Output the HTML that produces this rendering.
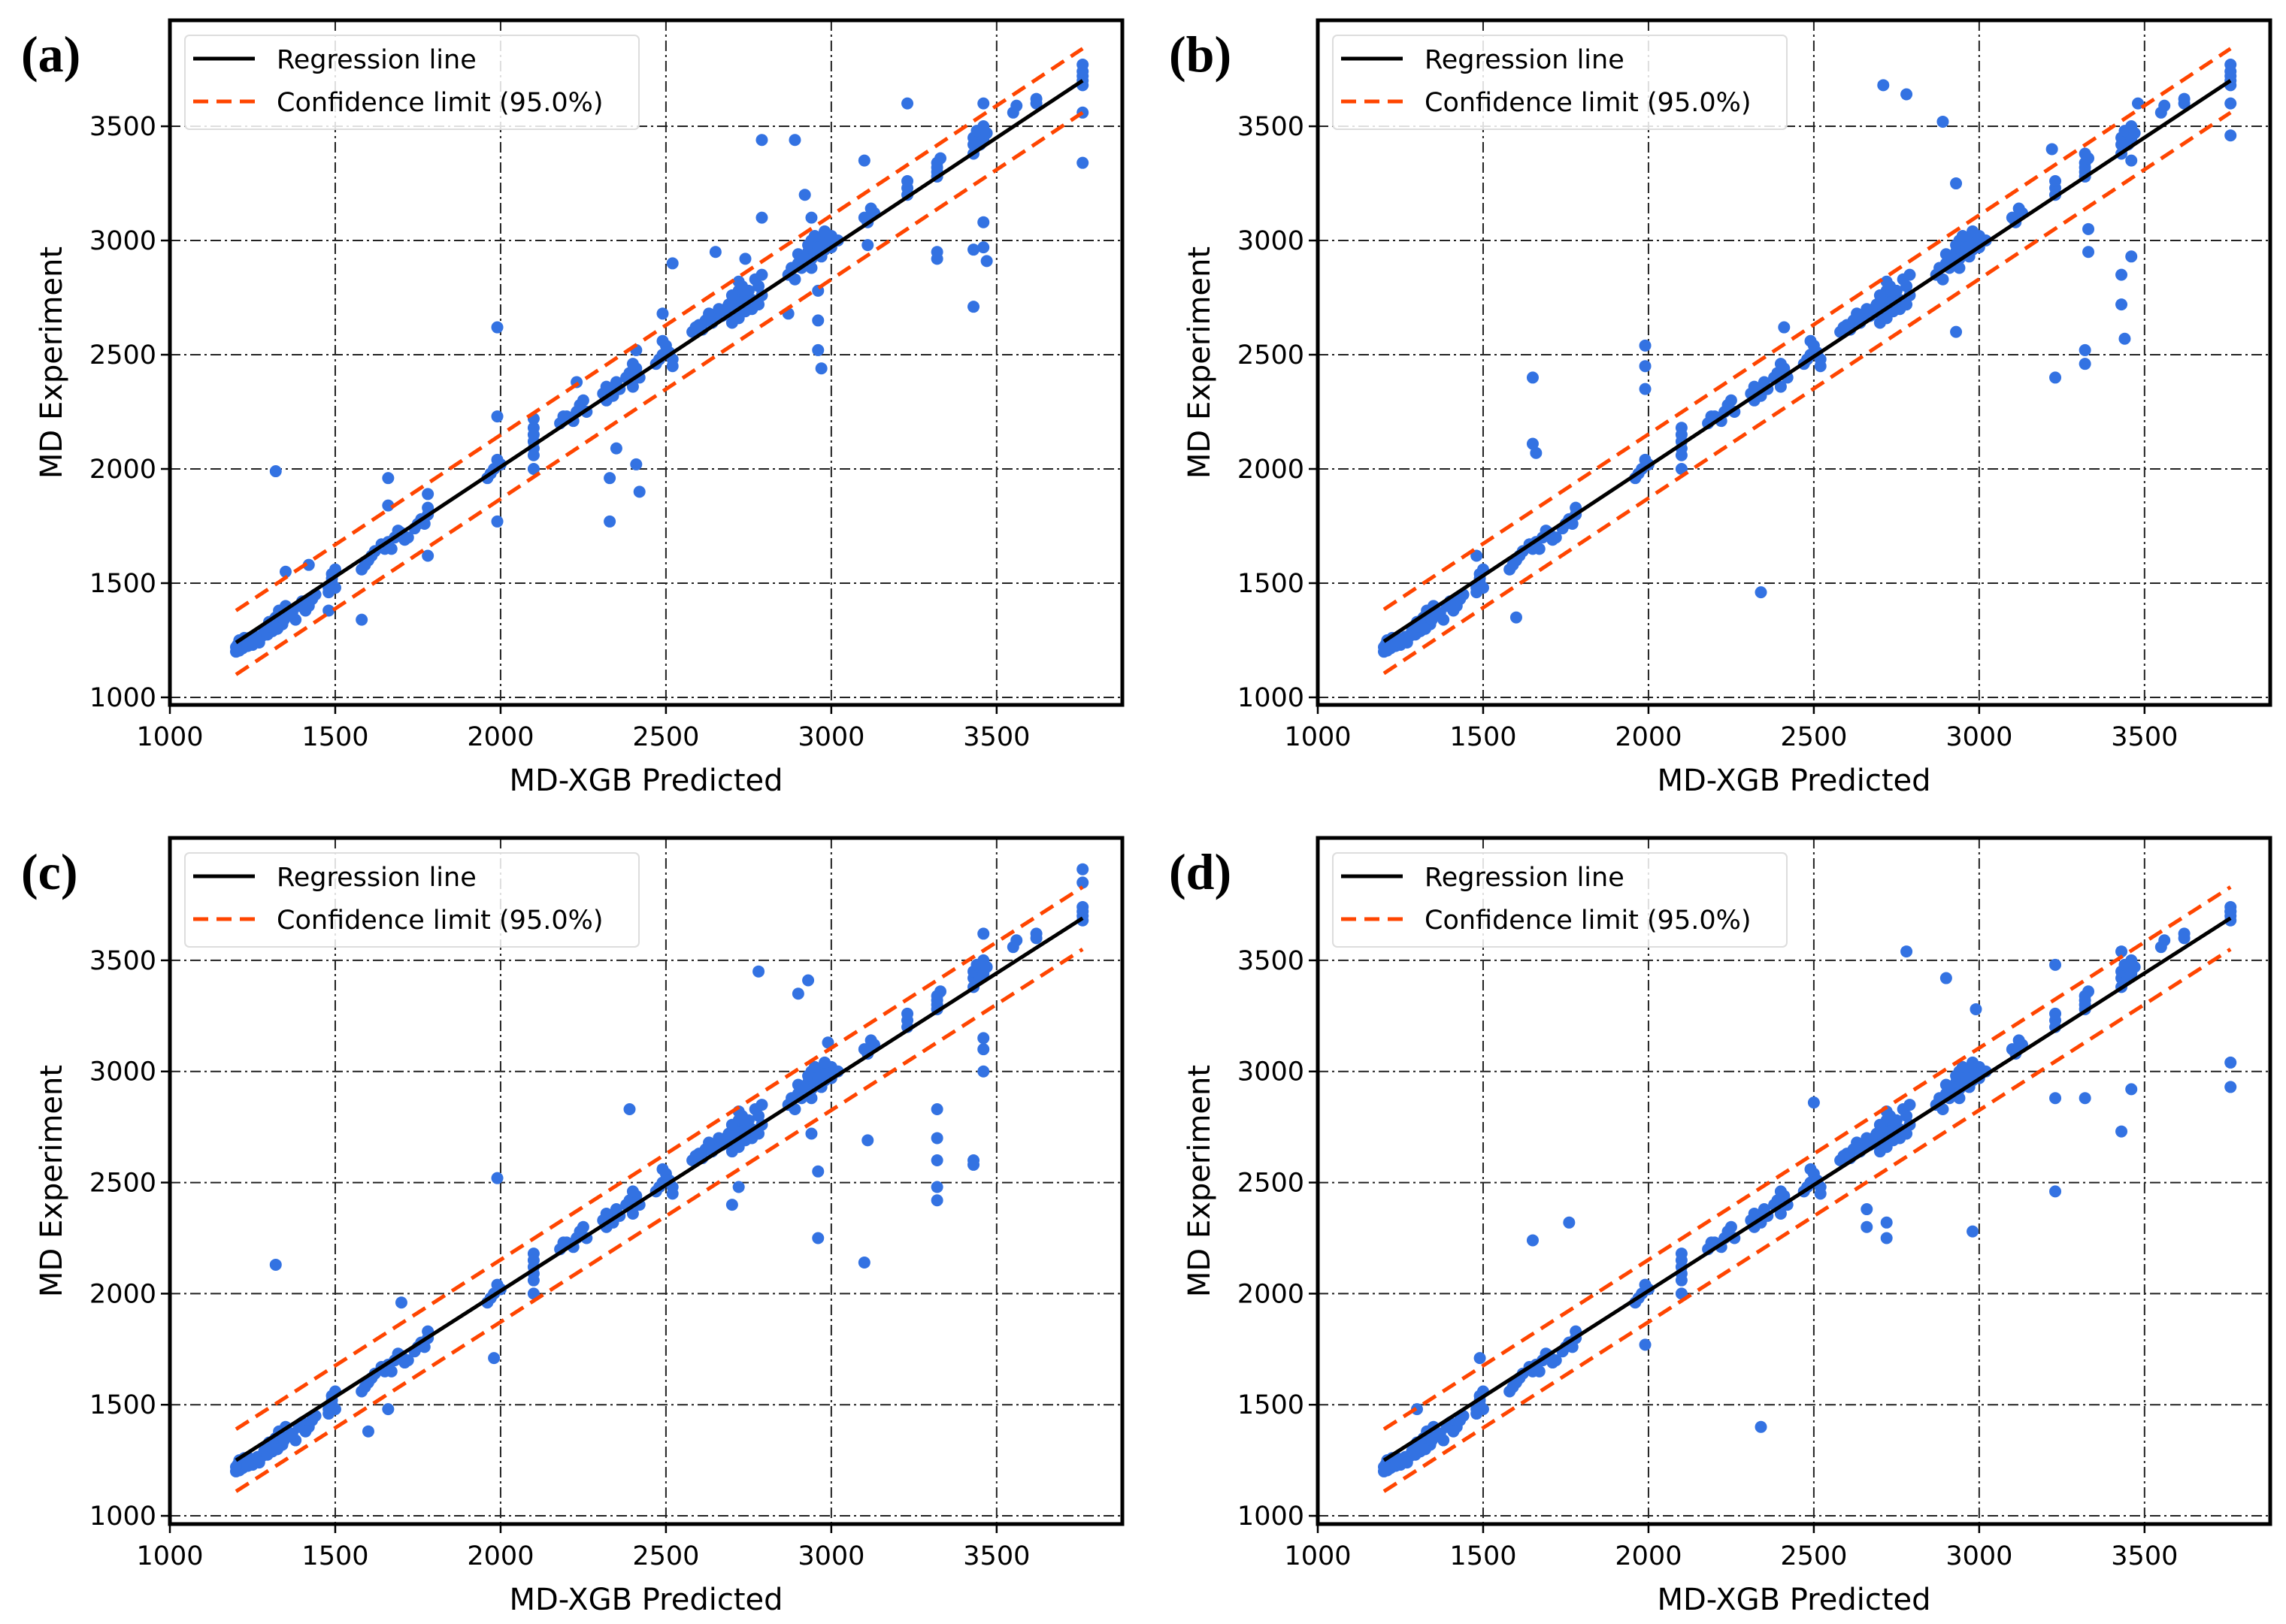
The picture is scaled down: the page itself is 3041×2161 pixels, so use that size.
<!DOCTYPE html>
<html><head><meta charset="utf-8"><style>
body{margin:0;background:#fff}
svg{display:block}
text{font-family:"DejaVu Sans","Liberation Sans",sans-serif}
</style></head><body>
<svg id="fig" width="3041" height="2161" viewBox="0 0 3041 2161" xmlns="http://www.w3.org/2000/svg"></svg>
<script>
const xTicks=[1000,1500,2000,2500,3000,3500];
const yTicks=[1000,1500,2000,2500,3000,3500];
const panelLabels=["(a)","(b)","(c)","(d)"];
const regStart=[1240,1245,1250,1250];
const regEnd=[3700,3700,3690,3690];
const confHalf=[140,140,140,140];
const basePoints=[[1200,1200],[1205,1230],[1210,1250],[1220,1215],[1230,1240],[1240,1260],[1250,1230],[1260,1250],[1280,1270],[1290,1300],[1300,1330],[1310,1290],[1320,1350],[1330,1380],[1340,1320],[1350,1400],[1360,1360],[1380,1340],[1400,1420],[1420,1400],[1440,1450],[1480,1460],[1490,1500],[1490,1540],[1500,1480],[1580,1560],[1600,1600],[1620,1640],[1650,1650],[1660,1680],[1680,1700],[1700,1720],[1720,1700],[1750,1760],[1760,1780],[1780,1800],[1960,1960],[1980,2000],[2000,2020],[2100,2060],[2100,2120],[2100,2180],[2180,2200],[2200,2230],[2230,2250],[2250,2300],[2320,2300],[2330,2340],[2350,2380],[2380,2400],[2400,2360],[2410,2440],[2470,2460],[2490,2500],[2500,2540],[2520,2480],[2580,2600],[2600,2630],[2620,2650],[2650,2660],[2680,2700],[2700,2680],[2710,2740],[2720,2780],[2740,2760],[2760,2700],[2780,2800],[2790,2760],[2870,2850],[2900,2900],[2910,2880],[2930,2950],[2940,2920],[2950,2980],[2970,3000],[2980,2960],[3000,3020],[3020,3000],[3100,3100],[3130,3120],[3230,3230],[3320,3300],[3320,3340],[3430,3420],[3450,3460],[3460,3500],[3550,3560],[3620,3620],[3760,3700],[3760,3740]];
const densePoints=[[1200,1220],[1210,1205],[1215,1240],[1225,1260],[1235,1225],[1245,1245],[1265,1265],[1270,1240],[1285,1290],[1295,1275],[1305,1310],[1315,1340],[1325,1300],[1335,1360],[1345,1340],[1355,1380],[1370,1370],[1390,1400],[1410,1380],[1430,1430],[1480,1480],[1490,1520],[1500,1560],[1590,1580],[1610,1620],[1640,1670],[1670,1650],[1690,1730],[1710,1690],[1740,1740],[1770,1760],[1780,1830],[1970,1980],[1990,2040],[2100,2000],[2100,2090],[2100,2150],[2190,2230],[2220,2210],[2240,2280],[2260,2250],[2310,2330],[2320,2360],[2340,2320],[2360,2350],[2390,2420],[2400,2460],[2420,2400],[2480,2480],[2490,2560],[2510,2510],[2520,2450],[2590,2620],[2610,2610],[2630,2680],[2640,2640],[2660,2700],[2670,2670],[2690,2720],[2700,2640],[2700,2760],[2710,2700],[2720,2660],[2720,2820],[2730,2730],[2730,2800],[2740,2690],[2750,2780],[2760,2740],[2770,2830],[2780,2720],[2790,2850],[2880,2880],[2890,2830],[2900,2940],[2920,2920],[2930,2980],[2940,2880],[2940,3000],[2950,2940],[2950,3020],[2960,2970],[2970,2930],[2980,3040],[2990,2990],[3000,2970],[3110,3080],[3120,3140],[3230,3200],[3230,3260],[3320,3280],[3320,3320],[3330,3360],[3430,3380],[3430,3450],[3440,3480],[3450,3420],[3460,3440],[3470,3470],[3560,3590],[3620,3600],[3760,3680],[3760,3720]];
const outA=[[1320,1990],[1350,1550],[1420,1580],[1480,1380],[1580,1340],[1660,1960],[1660,1840],[1780,1890],[1780,1620],[1990,2230],[1990,2620],[1990,1770],[2100,2220],[2230,2380],[2330,1960],[2330,1770],[2350,2090],[2410,2520],[2410,2020],[2420,1900],[2490,2680],[2520,2900],[2650,2950],[2740,2920],[2790,3100],[2790,3440],[2870,2680],[2890,3440],[2920,3200],[2940,3100],[2960,2650],[2960,2520],[2970,2440],[2960,2780],[3100,3350],[3110,2980],[3230,3600],[3320,2950],[3320,2920],[3430,2710],[3430,2960],[3460,3080],[3460,2970],[3470,2910],[3460,3600],[3760,3560],[3760,3340],[3760,3770]];
const outB=[[1650,2400],[1650,2110],[1660,2070],[1990,2540],[1990,2450],[1990,2350],[1600,1350],[2340,1460],[2410,2620],[2710,3680],[2780,3640],[2890,3520],[2930,3250],[2930,2600],[3230,2400],[3320,2520],[3320,2460],[3330,3050],[3330,2950],[3430,2850],[3430,2720],[3440,2570],[3460,2930],[3460,3350],[3760,3460],[3760,3600],[3760,3770],[3220,3400],[3320,3380],[3480,3600],[1480,1620]];
const outC=[[1320,2130],[1990,2520],[1980,1710],[2390,2830],[2780,3450],[2900,3350],[2930,3410],[2960,2250],[2960,2550],[3100,2140],[3110,2690],[3320,2420],[3320,2480],[3320,2600],[3320,2700],[3320,2830],[3430,2600],[3430,2580],[3460,3000],[3460,3100],[3460,3150],[3460,3620],[3760,3910],[3760,3850],[1700,1960],[1660,1480],[1600,1380],[2700,2400],[2720,2480],[2940,2720],[2990,3130]];
const outD=[[1650,2240],[1760,2320],[1990,1770],[2340,1400],[2500,2860],[2780,3540],[2900,3420],[2980,2280],[3230,2460],[3230,2880],[3230,3480],[3320,2880],[3430,2730],[3460,2920],[3760,2930],[3760,3040],[2660,2380],[2660,2300],[2720,2250],[2720,2320],[1490,1710],[1300,1480],[2990,3280],[3430,3540],[3760,3720]];
const outs=[outA,outB,outC,outD];
const panels=[{l:226,t:27,w:1267,h:911,y0:967,y1:3964},{l:1753,t:27,w:1267,h:911,y0:967,y1:3964},{l:226,t:1115,w:1267,h:913,y0:963,y1:4051},{l:1753,t:1115,w:1267,h:913,y0:963,y1:4051}];
const X0=1000,X1=3880;
const svg=document.getElementById('fig');
const NS='http://www.w3.org/2000/svg';
function mk(tag,attrs,parent){const e=document.createElementNS(NS,tag);for(const k in attrs)e.setAttribute(k,attrs[k]);(parent||svg).appendChild(e);return e;}
panels.forEach((p,i)=>{
  const g=mk('g',{});
  
  
  const sx=v=>p.l+(v-X0)/(X1-X0)*p.w;
  const sy=v=>p.t+p.h-(v-p.y0)/(p.y1-p.y0)*p.h;
  xTicks.forEach(v=>{const x=sx(v);
    const gl=mk('line',{x1:x,x2:x,y1:p.t,y2:p.t+p.h,stroke:'#222','stroke-width':2,'stroke-dasharray':'14,5,3,5'},g);
    
    mk('line',{x1:x,x2:x,y1:p.t+p.h,y2:p.t+p.h+12,stroke:'#000','stroke-width':2.5},g);
    const t=mk('text',{x:x,y:p.t+p.h+54,'font-size':35,'text-anchor':'middle'},g);t.textContent=v;
    });
  yTicks.forEach(v=>{const y=sy(v);
    const gl=mk('line',{x1:p.l,x2:p.l+p.w,y1:y,y2:y,stroke:'#222','stroke-width':2,'stroke-dasharray':'14,5,3,5'},g);
    
    mk('line',{x1:p.l-12,x2:p.l,y1:y,y2:y,stroke:'#000','stroke-width':2.5},g);
    const t=mk('text',{x:p.l-18,y:y+12,'font-size':35,'text-anchor':'end'},g);t.textContent=v;
    });
  const pts=basePoints.concat(densePoints,outs[i]);
  pts.forEach(d=>{const c=mk('circle',{cx:sx(d[0]),cy:sy(d[1]),r:8,fill:'#3372e2'},g);
    });
  const xa=1200,xb=3760;
  const rl=mk('line',{x1:sx(xa),y1:sy(regStart[i]),x2:sx(xb),y2:sy(regEnd[i]),stroke:'#000','stroke-width':5},g);
  
  [1,-1].forEach(s=>{const cl=mk('line',{x1:sx(xa),y1:sy(regStart[i]+s*confHalf[i]),x2:sx(xb),y2:sy(regEnd[i]+s*confHalf[i]),stroke:'#ff4500','stroke-width':5,'stroke-dasharray':'20,11'},g);
    });
  const fr=mk('rect',{x:p.l,y:p.t,width:p.w,height:p.h,fill:'none',stroke:'#000','stroke-width':5},g);
  
  const lg=mk('g',{},g);
  
  mk('rect',{x:p.l+20,y:p.t+20,width:604,height:125,rx:6,fill:'#fff','fill-opacity':0.85,stroke:'#ddd','stroke-width':2},lg);
  mk('line',{x1:p.l+31,x2:p.l+113,y1:p.t+51,y2:p.t+51,stroke:'#000','stroke-width':5},lg);
  mk('line',{x1:p.l+31,x2:p.l+113,y1:p.t+108,y2:p.t+108,stroke:'#ff4500','stroke-width':5,'stroke-dasharray':'20,11'},lg);
  const t1=mk('text',{x:p.l+142,y:p.t+64,'font-size':35},lg);t1.textContent='Regression line';
  
  const t2=mk('text',{x:p.l+142,y:p.t+121,'font-size':35},lg);t2.textContent='Confidence limit (95.0%)';
  
  const xl=mk('text',{x:p.l+p.w/2,y:p.t+p.h+114,'font-size':40,'text-anchor':'middle'},g);xl.textContent='MD-XGB Predicted';
  
  const cy=p.t+p.h/2;
  const yl=mk('text',{x:p.l-158,y:cy,'font-size':40,'text-anchor':'middle',transform:`rotate(-90 ${p.l-158} ${cy}) translate(0,14)`},g);yl.textContent='MD Experiment';
  
  const pl=mk('text',{x:p.l-198,y:p.t+68,'font-size':68,'font-weight':'bold',style:'font-family:"Liberation Serif",serif'},g);pl.textContent=panelLabels[i];
  
});
</script>
</body></html>
